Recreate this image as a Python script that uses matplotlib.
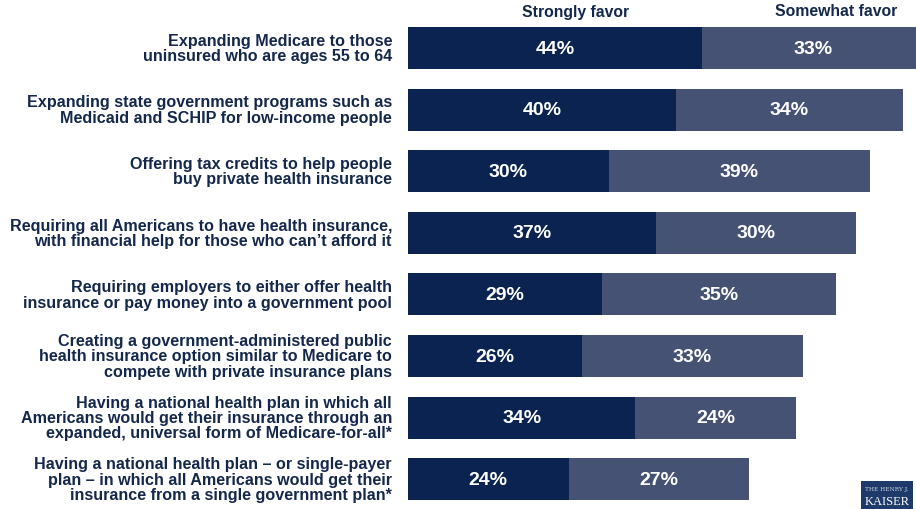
import matplotlib
matplotlib.use("Agg")
import matplotlib.pyplot as plt
from matplotlib.patches import Rectangle

categories = [
    "Expanding Medicare to those\nuninsured who are ages 55 to 64",
    "Expanding state government programs such as\nMedicaid and SCHIP for low-income people",
    "Offering tax credits to help people\nbuy private health insurance",
    "Requiring all Americans to have health insurance,\nwith financial help for those who can\u2019t afford it",
    "Requiring employers to either offer health\ninsurance or pay money into a government pool",
    "Creating a government-administered public\nhealth insurance option similar to Medicare to\ncompete with private insurance plans",
    "Having a national health plan in which all\nAmericans would get their insurance through an\nexpanded, universal form of Medicare-for-all*",
    "Having a national health plan \u2013 or single-payer\nplan \u2013 in which all Americans would get their\ninsurance from a single government plan*",
]
strongly = [44, 40, 30, 37, 29, 26, 34, 24]
somewhat = [33, 34, 39, 30, 35, 33, 24, 27]
series_names = ["Strongly favor", "Somewhat favor"]

W, H = 916, 510
dark = "#0A2350"
light = "#465273"
txt = "#14284B"

plt.rcParams['font.family'] = ['Liberation Sans', 'DejaVu Sans']
fig = plt.figure(figsize=(W / 100, H / 100), dpi=100)
ax = fig.add_axes([408 / W, 0, (W - 408) / W, 1])
ax.set_axis_off()

pitch = 61.6
c0 = 49
ax.set_ylim((H - c0) / pitch, -c0 / pitch)
ax.set_xlim(0, (W - 408) / 6.69)

ys = list(range(len(categories)))
ax.barh(ys, strongly, height=0.68, color=dark, clip_on=True)
ax.barh(ys, somewhat, left=strongly, height=0.68, color=light, clip_on=True)

for y, s, m, lab in zip(ys, strongly, somewhat, categories):
    ax.text(s / 2, y, f"{s}%", ha="center", va="center", color="white",
            fontsize=14, fontweight="bold")
    ax.text(s + m / 2, y, f"{m}%", ha="center", va="center", color="white",
            fontsize=14, fontweight="bold")
    fig.text(392 / W, 1 - (c0 + pitch * y) / H, lab, ha="right", va="center",
             color=txt, fontsize=11.6, fontweight="bold", linespacing=1.03,
             multialignment="right")

fig.text(576 / W, 1 - 12 / H, series_names[0], ha="center", va="center",
         color=txt, fontsize=11.3, fontweight="bold")
fig.text(836 / W, 1 - 12 / H, series_names[1], ha="center", va="center",
         color=txt, fontsize=11.3, fontweight="bold")

# logo
fig.patches.append(Rectangle((861 / W, 0), 52 / W, 28 / H, transform=fig.transFigure,
                             facecolor="#1E3A6A", edgecolor="none"))
fig.text(887 / W, 1 - 490 / H, "THE HENRY J.", ha="center", va="center",
         color="#C8D0E0", fontsize=4.2, family="DejaVu Serif")
fig.text(887 / W, 1 - 502 / H, "KAISER", ha="center", va="center",
         color="white", fontsize=9, family="Liberation Serif")

fig.savefig("out.png", dpi=100)
